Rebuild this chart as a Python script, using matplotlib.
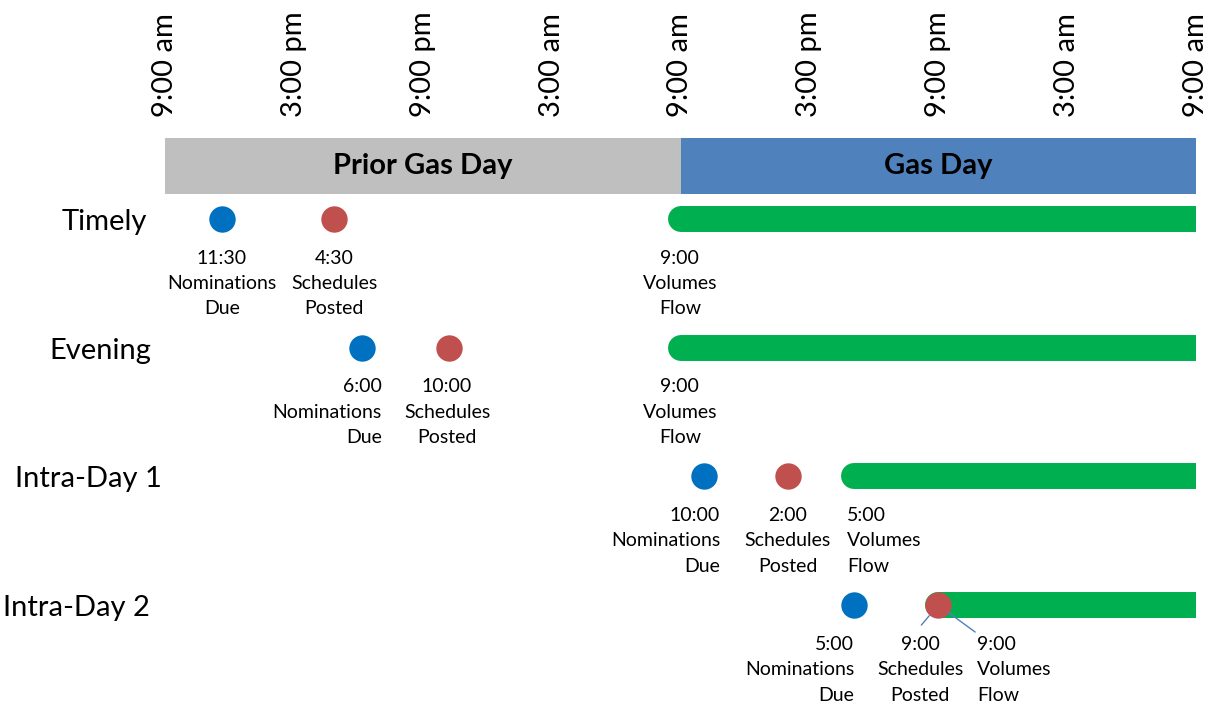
import matplotlib
matplotlib.use("Agg")
import matplotlib.pyplot as plt

plt.rcParams['font.family'] = ['Lato', 'DejaVu Sans']

# hours counted from 9:00 am of the prior gas day
tick_hours = [0, 6, 12, 18, 24, 30, 36, 42, 48]
tick_labels = ["9:00 am", "3:00 pm", "9:00 pm", "3:00 am",
               "9:00 am", "3:00 pm", "9:00 pm", "3:00 am", "9:00 am"]

periods = ["Prior Gas Day", "Gas Day"]
period_start = [0, 24]
period_len = [24, 24]

rows = ["Timely", "Evening", "Intra-Day 1", "Intra-Day 2"]

nom_hours = [2.65, 9.15, 25.1, 32.1]
nom_times = ["11:30", "6:00", "10:00", "5:00"]

sched_hours = [7.85, 13.2, 29.0, 36.0]
sched_times = ["4:30", "10:00", "2:00", "9:00"]

flow_hours = [24, 24, 32.1, 36]
flow_times = ["9:00", "9:00", "5:00", "9:00"]

# layout of the text boxes (hours, alignment)
row_label_x = [-0.84, -0.65, -0.14, -0.7]
nom_label = [(2.65, "center"), (10.1, "right"), (25.84, "right"), (32.08, "right")]
sched_label = [(7.87, "center"), (13.13, "center"), (29.0, "center"), (35.15, "center")]
flow_label = [(23.97, "center"), (23.97, "center"), (31.75, "left"), (37.8, "left")]

GRAY = "#BFBFBF"
HEAD_BLUE = "#4F81BD"
BLUE = "#0070C0"
RED = "#C0504D"
GREEN = "#00B050"


def main():
	W, H = 1215, 706
	fig = plt.figure(figsize=(W / 100, H / 100), dpi=100)
	ax = fig.add_axes([165 / W, 0, 1031 / W, (H - 138) / H])
	px = 128.7  # pixels per row
	ax.set_xlim(0, 48)
	ax.set_ylim((H - 219) / px, -(219 - 138) / px)

	for s in ax.spines.values():
		s.set_visible(False)
	ax.set_yticks([])
	ax.xaxis.tick_top()
	ax.set_xticks(tick_hours)
	ax.set_xticklabels(tick_labels, rotation=90, fontsize=21)
	ax.tick_params(axis="x", length=0, pad=15)

	# header bars
	bar_h = 56 / px
	bar_y = -(219 - 166) / px
	colors = [GRAY, HEAD_BLUE]
	for name, start, length, c in zip(periods, period_start, period_len, colors):
		ax.barh(bar_y, length, left=start, height=bar_h, color=c, edgecolor="none")
		ax.text(start + length / 2, bar_y, name, ha="center", va="center",
			fontsize=21, fontweight="bold", color="black")

	def label(x, y, ha, time, l1, l2):
		for i, t in enumerate([time, l1, l2]):
			ax.annotate(t, xy=(x, y), xytext=(0, -(39 + 25.5 * i) * 0.72),
				textcoords="offset points", ha=ha, va="center", fontsize=14,
				annotation_clip=False)

	for i, r in enumerate(rows):
		ax.text(row_label_x[i], i + 3 / px, r, ha="right", va="center", fontsize=21,
			clip_on=False)
		ax.plot([flow_hours[i], 50], [i, i], color=GREEN, lw=18.7,
			solid_capstyle="round", zorder=2)
		ax.plot(nom_hours[i], i, "o", ms=19, color=BLUE, mec="none", zorder=3)
		ax.plot(sched_hours[i], i, "o", ms=19, color=RED, mec="none", zorder=3)

		label(nom_label[i][0], i, nom_label[i][1], nom_times[i], "Nominations", "Due")
		label(sched_label[i][0], i, sched_label[i][1], sched_times[i], "Schedules", "Posted")
		label(flow_label[i][0], i, flow_label[i][1], flow_times[i], "Volumes", "Flow")

	# leader lines for the last row
	last = len(rows) - 1
	for off, shrink in [((-12.2, -14.4), 10), ((26.6, -19.4), 9)]:
		ax.annotate("", xy=(sched_hours[last], last), xytext=off,
			textcoords="offset points",
			arrowprops=dict(arrowstyle="-", color=HEAD_BLUE, lw=1,
				shrinkA=0, shrinkB=shrink), zorder=4)

	fig.savefig("out.png", dpi=100)


if __name__ == "__main__":
	main()
